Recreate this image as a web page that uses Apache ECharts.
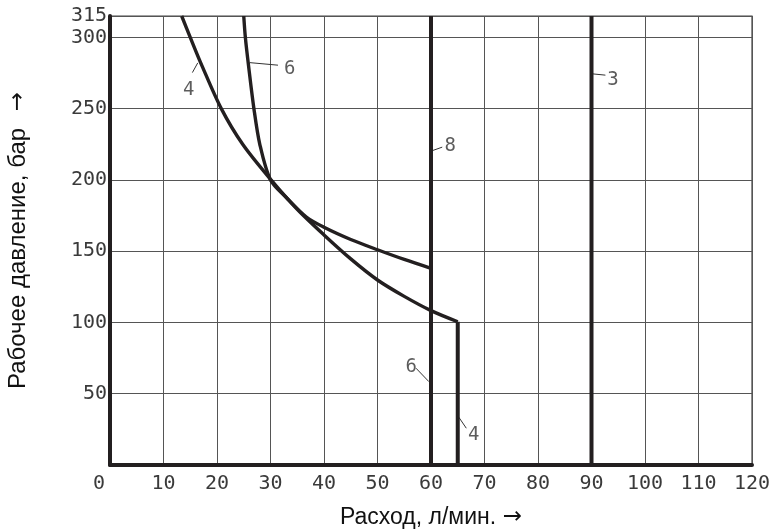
<!DOCTYPE html>
<html>
<head>
<meta charset="utf-8">
<script src="https://cdn.jsdelivr.net/npm/echarts@6/dist/echarts.min.js"></script>
<style>html,body{margin:0;padding:0;background:#fff;}#c{width:775px;height:530px;}</style>
</head>
<body>
<div id="c"></div>
<script>
// ---- data ----
const xTitleText = 'Расход, л/мин.';
const yTitleText = 'Рабочее давление, бар';
const arrow = '→';
const yTickLabels = [50, 100, 150, 200, 250, 300, 315];

// curve 4 (flow, pressure)
const curve4 = [[13.4,315],[15.0,300],[17.2,280],[20.8,250],[24.8,225],[30.1,200],[35,179.4],[40,161.4],[45,144.6],[50,129.8],[55,118.3],[60,108.3],[65,100.5]];
const line4Vertical = [[65,100.5],[65,0]];
// curve 6
const curve6 = [[25.0,315],[25.3,300],[25.9,280],[26.9,250],[28.0,225],[30.0,200],[33,187.5],[36.7,174],[40,166.8],[45,158.2],[50,151],[55,144.2],[60,138]];
const line6Vertical = [[60,138],[60,0]];
// line 8 and line 3
const line8 = [[60,0],[60,315]];
const line3 = [[90,0],[90,315]];

// curve labels: [x, y, text]
const curveLabels = [[14.7,262.7,'4'],[33.6,277.7,'6'],[63.6,223.9,'8'],[94.0,270.2,'3'],[56.3,69,'6'],[68.0,21,'4']];
// leader lines for labels
const leaders = [
  [[15.4,275.3],[16.4,282.1]],
  [[26.1,282.3],[31.4,280.5]],
  [[60.3,220.6],[62.1,223.0]],
  [[90.2,274.4],[92.6,273.5]],
  [[57.2,67.9],[59.6,58.5]],
  [[65.2,33.5],[66.6,25.8]]
];

// ---- chart ----
const mono = 'DejaVu Sans Mono';
const dark = '#231f20';
const chart = echarts.init(document.getElementById('c'));

const series = [];
function lineSeries(data, width, smooth) {
  return {type:'line', data:data, symbol:'none', smooth:smooth || false,
    silent:true, z:5, lineStyle:{color:dark, width:width, cap:'butt', join:'round'}};
}
series.push(lineSeries(curve4, 3.4, 0.3));
series.push(lineSeries(line4Vertical, 4));
series.push(lineSeries(curve6, 3.4, 0.3));
series.push(lineSeries(line6Vertical, 4));
series.push(lineSeries(line8, 4));
series.push(lineSeries(line3, 4));
leaders.forEach(function(l){
  series.push({type:'line', data:l, symbol:'none', silent:true, z:4, lineStyle:{color:'#333', width:1}});
});
series.push({type:'scatter', data:curveLabels, symbolSize:0, silent:true, z:6,
  label:{show:true, position:'inside', formatter:function(p){return p.data[2];},
    fontFamily:mono, fontSize:19, color:'#333'}});

const xRich = {
  t:{fontFamily:'Liberation Sans', fontSize:23, color:'#111'},
  a:{fontFamily:'DejaVu Sans', fontSize:23, color:'#111'}
};
const yRich = {
  t:{fontFamily:'Liberation Sans', fontSize:24, color:'#111'},
  a:{fontFamily:'DejaVu Sans', fontSize:23, color:'#111'}
};

chart.setOption({
  animation:false,
  grid:{left:110, right:23, top:16, bottom:65, show:true, borderColor:'#444', borderWidth:1.2,
    outerBoundsMode:'none', containLabel:false},
  xAxis:{type:'value', min:0, max:120, interval:10,
    axisLine:{show:true, onZero:false, lineStyle:{color:dark, width:4}},
    axisTick:{show:false},
    splitLine:{show:true, lineStyle:{color:'#555', width:1}},
    axisLabel:{margin:9, fontFamily:mono, fontSize:20, color:'#3a3a3a',
      formatter:function(v){return v===0 ? '{z|0}' : String(v);},
      rich:{z:{fontFamily:mono, fontSize:20, color:'#3a3a3a', padding:[0,22,0,0]}}},
    name:'{t|' + xTitleText + '}  {a|' + arrow + '}', nameLocation:'middle', nameGap:41,
    nameTextStyle:{rich:xRich}},
  yAxis:{type:'value', min:0, max:315, interval:50,
    axisLine:{show:true, onZero:false, lineStyle:{color:dark, width:4}},
    axisTick:{show:false},
    splitLine:{show:true, lineStyle:{color:'#555', width:1}},
    axisLabel:{margin:3, fontFamily:mono, fontSize:20, color:'#3a3a3a', customValues:yTickLabels,
      padding:[4,0,0,0]},
    name:'{t|' + yTitleText + '}     {a|' + arrow + '}', nameLocation:'middle', nameGap:80,
    nameTextStyle:{rich:yRich}},
  series:series
});
</script>
</body>
</html>
